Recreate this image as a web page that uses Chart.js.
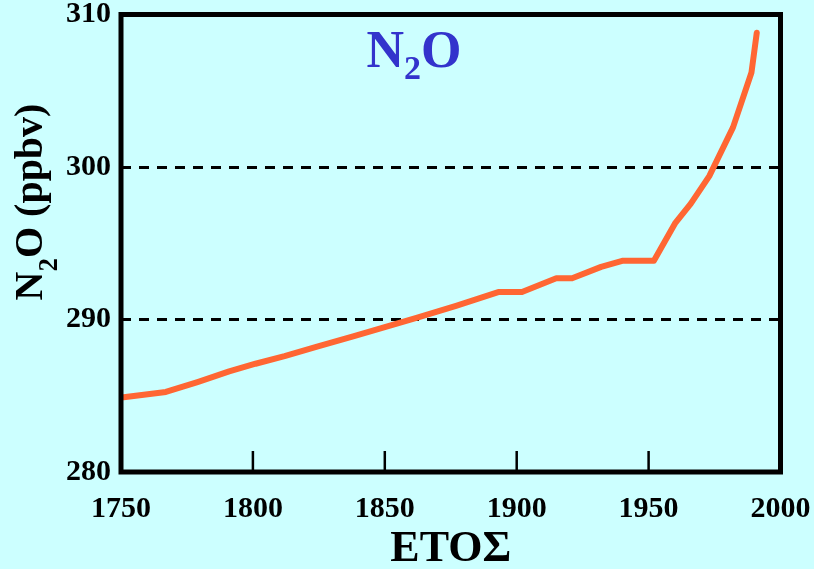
<!DOCTYPE html>
<html>
<head>
<meta charset="utf-8">
<script src="https://cdn.jsdelivr.net/npm/chart.js@4.4.1/dist/chart.umd.min.js"></script>
<style>
  html, body { margin: 0; padding: 0; background: #ccffff; }
  #wrap { width: 814px; height: 569px; }
</style>
</head>
<body>
<div id="wrap"><canvas id="n2oChart"></canvas></div>
<script>
// N2O concentration
const years = [1751, 1767, 1779, 1791, 1801, 1812, 1824, 1838, 1850, 1862, 1877, 1893, 1902, 1915, 1921, 1932, 1940, 1952, 1960, 1966, 1973, 1982, 1989, 1991];
const n2o   = [284.9, 285.25, 285.9, 286.6, 287.1, 287.6, 288.2, 288.9, 289.5, 290.1, 290.9, 291.8, 291.8, 292.7, 292.7, 293.45, 293.85, 293.85, 296.3, 297.6, 299.4, 302.6, 306.2, 308.8];

const yearTicks = [1750, 1800, 1850, 1900, 1950, 2000];
const innerYearTicks = [1800, 1850, 1900, 1950];
const ppbTicks = [280, 290, 300, 310];
const dashedLevels = [290, 300];

const serif = '"Liberation Serif", "DejaVu Serif", serif';

// draws text like N₂O; parts = [text, size, baselineShift]
function drawFormula(ctx, parts, cx, baseY, color) {
    ctx.fillStyle = color;
    ctx.textBaseline = 'alphabetic';
    ctx.textAlign = 'left';
    let total = 0;
    parts.forEach(p => {
        ctx.font = 'bold ' + p[1] + 'px ' + serif;
        total += ctx.measureText(p[0]).width;
    });
    let x = cx - total / 2;
    parts.forEach(p => {
        ctx.font = 'bold ' + p[1] + 'px ' + serif;
        ctx.fillText(p[0], x, baseY + p[2]);
        x += ctx.measureText(p[0]).width;
    });
}

const decorPlugin = {
    id: 'decor',
    afterDraw(chart) {
        const { ctx, chartArea: a } = chart;
        const xs = chart.scales.x;
        ctx.save();
        // inward tick marks on the bottom axis
        ctx.lineWidth = 2.5;
        ctx.strokeStyle = '#000';
        innerYearTicks.forEach(v => {
            const px = xs.getPixelForValue(v);
            ctx.beginPath();
            ctx.moveTo(px, a.bottom);
            ctx.lineTo(px, a.bottom - 21);
            ctx.stroke();
        });

        ctx.lineWidth = 5;
        ctx.strokeRect(a.left, a.top, a.right - a.left, a.bottom - a.top);

        drawFormula(ctx, [['N', 52, 0], ['2', 34, 12], ['O', 52, 0]], 414, 67, '#3333cc');

        ctx.translate(42, 202);
        ctx.rotate(-Math.PI / 2);
        drawFormula(ctx, [['N', 40, 0], ['2', 27, 15], ['O (ppbv)', 40, 0]], 0, 0, '#000');
        ctx.restore();
    }
};

const ctx = document.getElementById('n2oChart').getContext('2d');
new Chart(ctx, {
    type: 'line',
    data: {
        datasets: [{
            data: years.map((y, i) => ({ x: y, y: n2o[i] })),
            borderColor: '#ff6633',
            borderWidth: 6,
            borderCapStyle: 'round',
            borderJoinStyle: 'round',
            pointRadius: 0,
            tension: 0,
            fill: false
        }]
    },
    options: {
        responsive: true,
        maintainAspectRatio: false,
        animation: false,
        layout: { padding: { top: 14.5, right: 33.5, left: 0, bottom: 0 } },
        plugins: { legend: { display: false }, tooltip: { enabled: false } },
        scales: {
            x: {
                type: 'linear',
                min: 1750,
                max: 2000,
                afterBuildTicks: s => { s.ticks = yearTicks.map(v => ({ value: v })); },
                afterFit: s => { s.height = 97; s.paddingLeft = 0; s.paddingRight = 0; },
                border: { display: false },
                grid: { drawOnChartArea: false, drawTicks: false },
                ticks: {
                    padding: 19,
                    color: '#000',
                    font: { family: serif, size: 30, weight: 'bold' },
                    maxRotation: 0,
                    callback: v => String(v)
                },
                title: {
                    display: true,
                    text: 'ΕΤΟΣ',
                    color: '#000',
                    font: { family: serif, size: 44, weight: 'bold', lineHeight: 0.9 },
                    padding: { top: 0, bottom: 0 }
                }
            },
            y: {
                min: 280,
                max: 310,
                afterBuildTicks: s => { s.ticks = ppbTicks.map(v => ({ value: v })); },
                afterFit: s => { s.width = 121; s.paddingTop = 0; s.paddingBottom = 0; },
                border: { display: false, dash: [10, 8] },
                grid: {
                    drawTicks: false,
                    lineWidth: 3,
                    color: c => dashedLevels.includes(c.tick && c.tick.value) ? '#000' : 'rgba(0,0,0,0)'
                },
                ticks: {
                    padding: 10,
                    color: '#000',
                    font: { family: serif, size: 30, weight: 'bold' }
                }
            }
        }
    },
    plugins: [decorPlugin]
});
</script>
</body>
</html>
